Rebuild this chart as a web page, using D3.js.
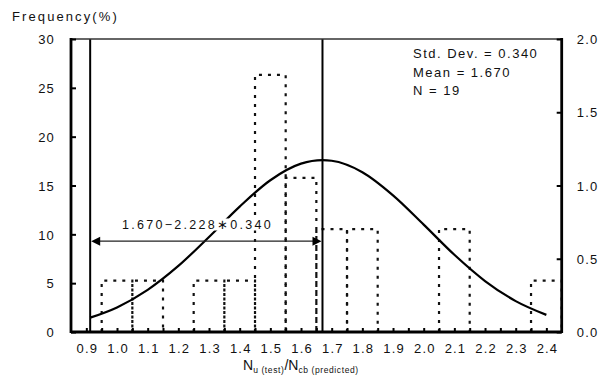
<!DOCTYPE html>
<html>
<head>
<meta charset="utf-8">
<script src="https://cdn.jsdelivr.net/npm/d3@7/dist/d3.min.js"></script>
<style>
  html, body { margin: 0; padding: 0; background: #fff; }
  svg { display: block; }
  text { font-family: "Liberation Sans", Arial, sans-serif; fill: #111; }
</style>
</head>
<body>
<svg id="chart" width="616" height="382"></svg>
<script>
// Histogram bins (lower edge, upper edge) and relative frequency in percent
const binLo = [0.95, 1.05, 1.25, 1.35, 1.45, 1.55, 1.65, 1.75, 2.05, 2.35];
const binHi = [1.05, 1.15, 1.35, 1.45, 1.55, 1.65, 1.75, 1.85, 2.15, 2.45];
const freqPct = [5.26, 5.26, 5.26, 5.26, 26.32, 15.79, 10.53, 10.53, 10.53, 5.26];

// Fitted normal density (right axis)
const curveX = [0.9125, 1.0, 1.1, 1.2, 1.3, 1.4, 1.5, 1.6, 1.67, 1.7, 1.8, 1.9, 2.0, 2.1, 2.2, 2.3, 2.4];
const curveY = [0.098, 0.168, 0.288, 0.451, 0.649, 0.856, 1.036, 1.149, 1.173, 1.169, 1.091, 0.933, 0.733, 0.527, 0.348, 0.211, 0.117];

// Reference lines: lower bound and mean
const meanVal = 1.670;
const lowerVal = 0.9125;
const arrowLevel = 9.3;   // height of the double arrow, in percent
const arrowLabel = "1.670\u22122.228\u22170.340";

const xTicks = [0.9, 1.0, 1.1, 1.2, 1.3, 1.4, 1.5, 1.6, 1.7, 1.8, 1.9, 2.0, 2.1, 2.2, 2.3, 2.4];
const xMinorTicks = [0.95, 1.05, 1.15, 1.25, 1.35, 1.45, 1.55, 1.65, 1.75, 1.85, 1.95, 2.05, 2.15, 2.25, 2.35];
const yLeftTicks = [0, 5, 10, 15, 20, 25, 30];
const yRightTicks = [0.0, 0.5, 1.0, 1.5, 2.0];
const statsLines = ["Std. Dev. = 0.340", "Mean = 1.670", "N = 19"];

const svg = d3.select("#chart");
const L = 71, R = 561.7, T = 39, B = 332;

const x = d3.scaleLinear().domain([0.85, 2.45]).range([L, R]);
const yL = d3.scaleLinear().domain([0, 30]).range([B, T]);
const yR = d3.scaleLinear().domain([0, 2]).range([B, T]);

// Histogram bars: dashed outlines
const bars = svg.append("g");
binLo.forEach((lo, i) => {
  const x0 = x(lo), x1 = x(binHi[i]), yt = yL(freqPct[i]);
  bars.append("path")
    .attr("d", `M${x0},${B} V${yt} H${x1} V${B}`)
    .attr("fill", "none")
    .attr("stroke", "#111")
    .attr("stroke-width", 2.2)
    .attr("stroke-dasharray", "3,6");
});

// Vertical reference lines
[lowerVal, meanVal].forEach(v => {
  svg.append("line")
    .attr("x1", x(v)).attr("x2", x(v))
    .attr("y1", T).attr("y2", B)
    .attr("stroke", "#000").attr("stroke-width", 2);
});

// Normal curve
const line = d3.line()
  .x((d, i) => x(curveX[i]))
  .y(d => yR(d))
  .curve(d3.curveMonotoneX);
svg.append("path")
  .datum(curveY)
  .attr("d", line)
  .attr("fill", "none")
  .attr("stroke", "#000")
  .attr("stroke-width", 2.2);

// Double arrow between lower bound and mean
const ay = yL(arrowLevel);
const ax0 = x(lowerVal) + 1, ax1 = x(meanVal) - 1;
svg.append("line")
  .attr("x1", ax0 + 6).attr("x2", ax1 - 6)
  .attr("y1", ay).attr("y2", ay)
  .attr("stroke", "#222").attr("stroke-width", 1.2);
svg.append("path")
  .attr("d", `M${ax0},${ay} l9,-4.5 v9 Z`)
  .attr("fill", "#000");
svg.append("path")
  .attr("d", `M${ax1},${ay} l-9,-4.5 v9 Z`)
  .attr("fill", "#000");

// Arrow label with a white backing so the curve passes behind it
const lbl = svg.append("g");
const lblText = lbl.append("text")
  .attr("x", 197.5).attr("y", 228.5)
  .attr("text-anchor", "middle")
  .style("font-size", "12.5px")
  .style("letter-spacing", "2.3px")
  .text(arrowLabel);
const bb = lblText.node().getBBox();
lbl.insert("rect", "text")
  .attr("x", bb.x).attr("y", bb.y + 1)
  .attr("width", bb.width).attr("height", bb.height - 2)
  .attr("fill", "#fff");

// Frame: top border (thin), left/right/bottom axes (thick)
svg.append("line").attr("x1", L).attr("x2", R).attr("y1", T).attr("y2", T)
  .attr("stroke", "#333").attr("stroke-width", 1.3);
svg.append("line").attr("x1", L).attr("x2", L).attr("y1", T - 1).attr("y2", B + 1)
  .attr("stroke", "#000").attr("stroke-width", 2.8);
svg.append("line").attr("x1", R).attr("x2", R).attr("y1", T - 1).attr("y2", B + 1)
  .attr("stroke", "#000").attr("stroke-width", 2.8);
svg.append("line").attr("x1", L).attr("x2", R).attr("y1", B).attr("y2", B)
  .attr("stroke", "#000").attr("stroke-width", 2.8);

// Left axis
const gL = svg.append("g").attr("transform", `translate(${L},0)`)
  .call(d3.axisLeft(yL).tickValues(yLeftTicks).tickSize(-5).tickPadding(16).tickFormat(d3.format("d")));
// Right axis
const gR = svg.append("g").attr("transform", `translate(${R},0)`)
  .call(d3.axisRight(yR).tickValues(yRightTicks).tickSize(-5).tickPadding(15).tickFormat(d3.format(".1f")));
// Bottom axis: labelled ticks plus half-step minor ticks
const gB = svg.append("g").attr("transform", `translate(0,${B})`)
  .call(d3.axisBottom(x).tickValues(xTicks).tickSize(-4).tickPadding(20).tickFormat(d3.format(".1f")));
const gBm = svg.append("g").attr("transform", `translate(0,${B})`)
  .call(d3.axisBottom(x).tickValues(xMinorTicks).tickSize(-4).tickFormat(""));

[gL, gR, gB, gBm].forEach(g => {
  g.select(".domain").remove();
  g.selectAll(".tick line").attr("stroke", "#000").attr("stroke-width", 2);
  g.selectAll(".tick text")
    .style("font-size", "13px")
    .style("letter-spacing", "1.2px")
    .attr("fill", "#111");
});
gL.selectAll(".tick text").attr("dy", "0.36em");
gR.selectAll(".tick text").attr("dy", "0.36em");
gB.selectAll(".tick text").attr("dy", "0.1em").attr("dx", "0.6px");

// Y axis title
svg.append("text")
  .attr("x", 12).attr("y", 21)
  .style("font-size", "13px")
  .style("letter-spacing", "2.1px")
  .text("Frequency(%)");

// Statistics block
svg.append("g").selectAll("text")
  .data(statsLines)
  .join("text")
  .attr("x", 413)
  .attr("y", (d, i) => 58.3 + i * 18.3)
  .style("font-size", "13px")
  .style("letter-spacing", "1.5px")
  .text(d => d);

// X axis title with subscripts
const xt = svg.append("text")
  .attr("x", 243).attr("y", 370)
  .style("font-size", "14px");
xt.append("tspan").text("N");
xt.append("tspan").attr("dy", 3).style("font-size", "8.5px").style("letter-spacing", "0.6px").text("u (test)");
xt.append("tspan").attr("dy", -3).text("/N");
xt.append("tspan").attr("dy", 3).style("font-size", "8.5px").style("letter-spacing", "0.6px").text("cb (predicted)");
</script>
</body>
</html>
